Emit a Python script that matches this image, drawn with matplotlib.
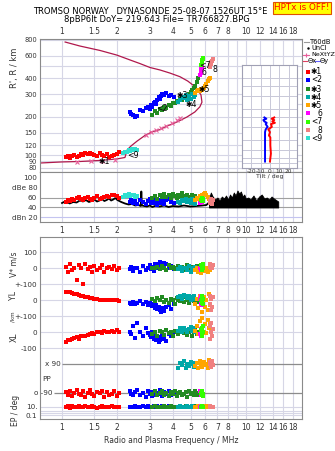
import numpy as np
import matplotlib
matplotlib.use("Agg")
from matplotlib import pyplot as plt
from matplotlib.ticker import NullLocator

plt.rcParams['font.family'] = ['DejaVu Sans']
plt.rcParams['font.size'] = 6

# ---- eixos de frequencia e altura ----
grade_f = [1, 1.5, 2, 3, 4, 5, 6, 7, 8, 9, 10, 12, 14, 16, 18]
rot_f_topo = ["1", "1.5", "2", "3", "4", "5", "6", "7", "8", "", "10", "12", "14", "16", "18"]
rot_f_meio = ["1", "1.5", "2", "3", "4", "5", "6", "7", "8", "9", "10", "12", "14", "16", "18"]
alt_ticks = [80, 90, 100, 120, 150, 200, 250, 300, 400, 500, 600, 800]
alt_rot = ["80", "90", "100", "120", "150", "200", "", "300", "400", "", "600", "800"]

# ---- perfil de densidade (freq MHz, altura km) ----
perfil_f = [0.76, 1.0, 1.25, 1.61, 1.99, 2.20, 2.26, 2.37, 2.56, 2.83, 3.08, 3.41, 3.72, 4.22, 4.78,
            5.28, 5.62, 5.77, 5.70, 5.48, 5.15, 4.83, 4.38, 3.86, 3.41, 3.01, 2.65, 2.34, 1.99, 1.61, 1.25, 1.04]
perfil_h = [87, 88.7, 89.4, 91.1, 93.6, 96.1, 110, 118, 129, 143, 152, 159, 169, 182, 199,
            218, 239, 260, 296, 323, 354, 380, 411, 439, 464, 485, 521, 556, 606, 659, 714, 767]
nx_f = [1.2, 1.44, 1.64, 1.94, 2.85, 3.05, 3.25, 3.45, 3.7, 3.95, 4.2, 4.4]
nx_h = [89, 90, 91, 92, 145, 152, 157, 162, 170, 178, 187, 194]

# ---- inclinacoes (tilt) ----
tx_h = [247, 240, 233, 226, 219, 213, 200, 189, 178, 165, 158, 132, 110, 92]
tx_deg = [4.6, 1.8, 4.6, 2.5, 5.3, 1.1, 2.0, -1.8, 0, -1.1, 0.4, 0.4, 1.0, 0]
ty_h = [247, 240, 233, 226, 219, 213, 200, 189, 178, 165, 132, 110, 92]
ty_deg = [-6, -3.9, -7.1, -6, -3.5, -4.6, -2.5, -4.6, -5.3, -5.3, -5.3, -5.3, -5.3]

# ---- ruido (dB) ----
ruido_f = [1.0, 1.05, 1.1, 1.15, 1.2, 1.25, 1.3, 1.35, 1.4, 1.45, 1.5, 1.55, 1.6, 1.65, 1.7, 1.75, 1.8,
           1.85, 1.9, 1.95, 2.0, 2.05, 2.1, 2.2, 2.3, 2.4, 2.5, 2.6, 2.68, 2.7, 2.72, 2.8, 2.9, 3.0,
           3.1, 3.2, 3.4, 3.6, 3.8, 4.0, 4.3, 4.6, 5.0, 5.4, 5.8, 6.1, 6.3]
ruido_db = [49, 53, 48, 51, 50, 54, 52, 55, 51, 53, 56, 52, 54, 57, 53, 55, 58, 54, 56, 59, 55, 53,
            51, 48, 46, 47, 44, 45, 43, 72, 44, 43, 42, 44, 41, 43, 42, 44, 41, 43, 42, 44, 42, 43,
            44, 45, 50]
ruido2_f = [6.3, 6.45, 6.6, 6.8, 7.0, 7.2, 7.4, 7.6, 7.8, 8.0, 8.2, 8.4, 8.6, 8.8, 9.0, 9.2, 9.4,
            9.6, 9.8, 10.0, 10.3, 10.6, 11.0, 11.4, 11.8, 12.2, 12.6, 13.0, 13.4, 13.8, 14.2, 14.6, 15.0]
ruido2_top = [58, 70, 62, 56, 60, 54, 62, 58, 64, 56, 66, 60, 70, 64, 74, 68, 72, 62, 66, 58, 60,
              56, 64, 54, 62, 66, 58, 60, 56, 62, 58, 55, 52]
ruido2_base = 40

# ---- ecos por trajeto ----
f1 = [1.05, 1.08, 1.1, 1.13, 1.16, 1.2, 1.23, 1.27, 1.3, 1.34, 1.38, 1.42, 1.46, 1.5, 1.55, 1.6,
      1.65, 1.7, 1.75, 1.8, 1.86, 1.92, 1.98, 2.05]
h1 = [97, 99, 96, 98, 100, 97, 99, 103, 101, 104, 102, 105, 103, 101, 99, 104, 100, 98, 102, 97, 99, 101, 103, 106]
db1 = [52, 55, 54, 58, 56, 60, 62, 57, 55, 59, 61, 58, 56, 60, 63, 57, 59, 61, 64, 62, 65, 66, 63, 60]
v1 = [10, -20, 30, -10, 5, -75, 20, 0, -100, 25, -5, 10, -25, 15, -10, 5, 20, -20, 0, 10, -5, 15, -10, 5]
yl1 = [55, 52, 50, 45, 42, 38, 35, 30, 25, 22, 18, 15, 12, 10, 8, 5, 5, 3, 5, 2, 0, 2, 0, -2]
xl1 = [-60, -50, -45, -40, -35, -30, -40, -25, -20, -25, -15, -10, -5, -10, 0, 5, -5, 10, 0, 5, 10, 0, 15, 5]
pp1 = [-85, -100, -75, -110, -90, -70, -95, -105, -80, -115, -88, -72, -98, -108, -82, -92, -76,
       -112, -86, -102, -94, -78, -106, -90]
ep1 = [8, 12, 6, 15, 10, 9, 13, 7, 11, 14, 9, 8, 12, 10, 6, 11, 13, 9, 7, 10, 12, 8, 11, 9]

f2 = [2.33, 2.38, 2.43, 2.48, 2.55, 2.65, 2.75, 2.85, 2.95, 3.0, 3.05, 3.1, 3.15, 3.2, 3.25, 3.3,
      3.35, 3.4, 3.45, 3.5, 3.6, 3.7, 3.8, 3.9, 4.05]
h2 = [216, 212, 206, 199, 203, 226, 222, 232, 238, 228, 246, 240, 256, 262, 250, 272, 284, 276, 292,
      300, 296, 306, 288, 298, 285]
db2 = [52, 55, 50, 54, 48, 56, 51, 47, 53, 57, 50, 55, 49, 58, 52, 46, 54, 56, 50, 53, 48, 55, 57, 51, 49]
v2 = [-5, 10, -15, 5, 0, -20, 15, -10, 5, 20, -5, 10, -15, 25, 0, 30, 15, 40, 20, 10, 35, 25, 5, 15, -5]
yl2 = [-15, -20, -10, -25, -15, -5, -20, -10, -30, -15, -25, -35, -20, -45, -30, -55, -40, -60, -70,
       -50, -65, -40, -30, -55, -20]
xl2 = [5, -10, 40, -35, 60, 0, -20, 25, -5, -15, -30, 5, -40, -25, -50, -35, -60, -45, -30, -20, -40,
       -55, -10, -25, 0]
pp2 = [-80, -95, -105, -85, -70, -100, -90, -115, -75, -95, -85, -110, -100, -80, -92, -105, -88,
       -72, -98, -110, -84, -95, -78, -102, -90]
ep2 = [9, 11, 8, 13, 10, 7, 12, 9, 14, 10, 8, 11, 13, 9, 10, 12, 7, 11, 9, 13, 10, 8, 12, 10, 9]

f3 = [3.1, 3.2, 3.3, 3.4, 3.5, 3.6, 3.7, 3.8, 3.9, 4.0, 4.1, 4.2, 4.3, 4.4, 4.5, 4.6, 4.7, 4.8, 4.9,
      5.0, 5.1, 5.2, 5.3, 5.4, 5.5]
h3 = [208, 220, 215, 230, 226, 240, 236, 248, 244, 258, 254, 266, 262, 276, 272, 286, 282, 296, 300,
      310, 322, 335, 350, 372, 400]
db3 = [60, 64, 58, 66, 62, 68, 61, 65, 59, 67, 63, 60, 66, 62, 69, 64, 60, 65, 58, 62, 66, 61, 63, 59, 57]
v3 = [5, 0, 10, -5, 15, 5, -10, 20, 0, 10, -5, 5, 15, 0, 10, -10, 5, 20, 0, -5, 10, 5, -10, 15, 0]
yl3 = [10, -5, 15, 0, 20, -10, 5, -15, 10, 0, -20, 15, 5, -5, 10, -10, 20, 0, -15, 5, 15, -5, 10, -10, 0]
xl3 = [-10, 5, -20, 10, 0, -15, 15, -5, 5, -25, 10, 0, -10, 20, 5, -5, 15, -15, 0, 10, -20, 5, 15, -10, 0]
pp3 = [-95, -80, -105, -88, -75, -100, -92, -110, -84, -98, -78, -106, -90, -82, -102, -94, -86,
       -112, -76, -96, -88, -104, -80, -92, -100]
ep3 = [10, 12, 8, 11, 9, 13, 10, 7, 12, 9, 11, 10, 8, 13, 10, 9, 12, 11, 8, 10, 9, 12, 10, 11, 9]

f4 = [4.3, 4.4, 4.5, 4.6, 4.7, 4.8, 4.9, 5.0, 5.1, 5.2, 5.3]
h4 = [262, 270, 285, 278, 296, 268, 290, 275, 300, 285, 295]
db4 = [52, 49, 56, 54, 58, 51, 55, 50, 57, 53, 48]
v4 = [-5, 10, -15, 0, 5, -10, 15, -20, 0, -5, 10]
yl4 = [20, 30, 10, 35, 25, 15, 30, 5, 20, 25, 10]
xl4 = [10, 25, 0, 30, 15, 5, 20, 35, 10, 25, 0]
pp4 = [70, 100, 85, 110, 65, 95, 80, 105, 90, 75, 100]
ep4 = [9, 12, 10, 8, 11, 13, 9, 10, 12, 8, 11]

f5 = [5.3, 5.4, 5.5, 5.6, 5.7, 5.8, 5.9, 6.0, 6.1, 6.2, 6.3, 6.4]
h5 = [305, 315, 322, 318, 330, 326, 338, 345, 362, 380, 392, 402]
db5 = [56, 60, 58, 64, 62, 66, 68, 70, 65, 61, 58, 55]
v5 = [-10, 5, -20, 0, -30, 10, -5, -15, 5, -25, 0, -10]
yl5 = [-20, 10, -50, 30, -10, -70, 20, -40, 0, -60, 40, -30]
xl5 = [10, 40, -10, 70, 20, 90, 0, 50, -5, 80, 30, 60]
pp5 = [80, 100, 65, 110, 90, 75, 105, 85, 95, 70, 115, 88]
ep5 = [10, 8, 12, 9, 11, 13, 10, 7, 12, 9, 11, 10]

f6 = [5.65, 5.68, 5.7, 5.72, 5.75, 5.78]
h6 = [425, 440, 455, 470, 485, 500]
db6 = [50, 53, 55, 52, 54, 51]
v6 = [5, -10, 15, 0, -5, 10]
yl6 = [10, -20, 25, -5, 15, -30]
xl6 = [-10, 20, 5, -25, 30, 0]
pp6 = [-80, -95, -105, -85, -100, -90]
ep6 = [10, 12, 9, 11, 8, 10]

f7 = [5.72, 5.75, 5.78, 5.8, 5.83, 5.86]
h7 = [510, 525, 540, 555, 565, 580]
db7 = [55, 58, 53, 60, 57, 54]
v7 = [20, 0, 10, -10, 25, 5]
yl7 = [0, 20, -15, 30, -25, 10]
xl7 = [15, -10, 30, -20, 5, 40]
pp7 = [-90, -75, -105, -85, -110, -95]
ep7 = [11, 9, 12, 10, 8, 10]

f8 = [6.35, 6.4, 6.45, 6.5, 6.55, 6.6]
h8 = [490, 505, 520, 535, 550, 565]
db8 = [50, 54, 57, 52, 48, 55]
v8 = [10, 25, 0, 15, 5, 20]
yl8 = [30, -20, 10, -60, -40, 20]
xl8 = [-40, 40, 0, 60, -20, 20]
pp8 = [90, 105, 75, 95, 110, 85]
ep8 = [10, 12, 9, 11, 8, 10]

f9 = [2.15, 2.2, 2.25, 2.3, 2.35, 2.4, 2.45, 2.5, 2.55]
h9 = [104, 107, 106, 109, 108, 111, 110, 112, 109]
db9 = [62, 65, 64, 67, 63, 66, 65, 62, 64]

cores = {1: "#ff0000", 2: "#0000ff", 3: "#228b22", 4: "#00a8a8", 5: "#ffa500",
         6: "#ff00ff", 7: "#33ff00", 8: "#f08080", 9: "#30e0d0"}
nomes = {1: "\u27311", 2: "<2", 3: "\u27313", 4: "\u27314", 5: "\u27315", 6: "6", 7: "<7", 8: "8", 9: "<9"}

W, H = 335, 451
grade = "#d6d6e6"
moldura = "#8a8a8a"
crimson = "#b0184c"
rosa = "#e8609c"
texto = "#333333"


def caixa(x0, y0, x1, y1):
    return [x0 / W, 1 - y1 / H, (x1 - x0) / W, (y1 - y0) / H]


# bandas do painel inferior
def pos_v(v): return np.asarray(v, float)
def pos_yl(v): return np.asarray(v, float) - 200
def pos_xl(v): return np.asarray(v, float) - 400
def pos_pp(v): return np.asarray(v, float) - 690
def pos_ep(v): return -917 + (np.log10(np.asarray(v, float)) + 1) * 26


def eixo_freq(ax):
    ax.set_xscale("log")
    ax.set_xlim(0.759, 20.2)
    ax.set_xticks(grade_f)
    ax.xaxis.set_minor_locator(NullLocator())
    ax.grid(True, axis="x", color=grade, lw=0.8)
    ax.tick_params(length=0, labelsize=5.5, colors=texto)
    for s in ax.spines.values():
        s.set_color(moldura)
        s.set_linewidth(0.8)


fig = plt.figure(figsize=(W / 100, H / 100), dpi=100)

# ---------------- painel superior: ionograma ----------------
ax1 = fig.add_axes(caixa(40, 39, 302, 172))
eixo_freq(ax1)
ax1.set_yscale("log")
ax1.set_ylim(74, 810)
ax1.set_yticks(alt_ticks)
ax1.set_yticklabels(alt_rot)
ax1.yaxis.set_minor_locator(NullLocator())
ax1.grid(True, axis="y", color=grade, lw=0.8)
ax1.set_xticklabels(rot_f_topo)
ax1.tick_params(axis="x", top=True, labeltop=True, bottom=False, labelbottom=False, pad=2)
ax1.tick_params(axis="y", pad=2, labelsize=4.8)

ax1.plot(perfil_f, perfil_h, color=crimson, lw=0.9, zorder=2)
ax1.plot(nx_f, nx_h, "x", color=rosa, ms=2.6, mew=0.8, zorder=3)

trajetos = [(1, f1, h1), (9, f9, h9), (2, f2, h2), (3, f3, h3), (4, f4, h4), (5, f5, h5),
            (6, f6, h6), (7, f7, h7), (8, f8, h8)]
for k, ff, hh in trajetos:
    ax1.plot(ff, hh, "s", color=cores[k], ms=2.5, mew=0, zorder=4)

rotulos = [(1, 1.69, 90), (9, 2.43, 100), (2, 3.5, 234), (3, 4.49, 292), (4, 5.04, 250),
           (5, 5.9, 324), (6, 5.9, 440), (7, 5.98, 507), (8, 6.79, 464)]
for k, fx, hy in rotulos:
    ax1.text(fx, hy, nomes[k], fontsize=5.6, ha="center", va="center", color="black", zorder=6)

# inset de inclinacao
ax4 = fig.add_axes(caixa(242, 65, 297, 168))
ax4.set_zorder(5)
ax4.set_yscale("log")
ax4.set_ylim(79.6, 507)
ax4.set_xlim(-30, 29)
ax4.set_yticks(alt_ticks)
ax4.set_yticklabels([])
ax4.yaxis.set_minor_locator(NullLocator())
ax4.set_xticks([-20, -10, 0, 10, 20])
ax4.set_xticklabels(["-20", "-10", "0", "10", "20"])
ax4.grid(True, color="#c8c8d8", lw=0.7)
ax4.tick_params(length=0, labelsize=4.2, pad=1, colors=texto)
ax4.set_xlabel("Tilt / deg", fontsize=4.4, labelpad=0, color=texto)
for s in ax4.spines.values():
    s.set_color("#a0a0b4")
ax4.plot(ty_deg, ty_h, color="#0000ff", lw=1.4)
ax4.plot(tx_deg, tx_h, color="#ff0000", lw=1.4)

# ---------------- painel de amplitude (dB) ----------------
ax2 = fig.add_axes(caixa(40, 172, 302, 222))
eixo_freq(ax2)
ax2.set_ylim(11, 111)
ax2.set_yticks([100, 80, 60, 40, 20])
ax2.set_yticklabels(["100", "dBe 80", "60", "40", "dBn 20"])
ax2.set_xticklabels(rot_f_meio)
ax2.tick_params(axis="x", pad=3)
ax2.tick_params(axis="y", pad=2, labelsize=5.2)
ax2.axhline(60, color="#a0a0a0", lw=0.8)
ax2.axhline(40, color="#a0a0a0", lw=0.8)
ax2.axhline(20, color="#c4c4f0", lw=0.8)
ax2.plot(ruido_f, ruido_db, color="black", lw=1.3, zorder=2)
ax2.fill_between(ruido2_f, ruido2_base, ruido2_top, color="black", lw=0.6, zorder=2)
dbs = [(1, f1, db1), (9, f9, db9), (2, f2, db2), (3, f3, db3), (4, f4, db4), (5, f5, db5),
       (8, f8, db8), (6, f6, db6), (7, f7, db7)]
for k, ff, dd in dbs:
    ax2.plot(ff, dd, "s", color=cores[k], ms=2.5, mew=0, zorder=3)

# ---------------- painel inferior: V*, YL, XL, PP, EP ----------------
ax3 = fig.add_axes(caixa(40, 237, 302, 419))
eixo_freq(ax3)
ax3.set_ylim(-942, 196)
yt = [100, 0, -100, -200, -300, -400, -500, float(pos_ep(10)), float(pos_ep(0.1))]
ax3.set_yticks(yt)
ax3.set_yticklabels(["100", "0", "+-100", "0", "+-100", "0", "-100", "10.", "0.1"])
ax3.set_xticklabels(rot_f_topo)
ax3.tick_params(axis="x", pad=3)
ax3.tick_params(axis="y", pad=2, labelsize=5.2)
ax3.grid(True, axis="y", color=grade, lw=0.8)
for e in [1, 0.3]:
    ax3.axhline(float(pos_ep(e)), color=grade, lw=0.8)
ax3.hlines(float(pos_pp(90)), 1.0, 20.2, color="#8c8c8c", lw=0.9)
ax3.hlines(float(pos_pp(-90)), 0.9, 20.2, color="#8c8c8c", lw=0.9)
ax3.text(0.99, float(pos_pp(90)), "x 90", ha="right", va="center", fontsize=5.2, color=texto)
ax3.text(0.89, float(pos_pp(-90)), "o -90", ha="right", va="center", fontsize=5.2, color=texto)
ax3.text(0.785, float(pos_pp(0)), "PP", ha="left", va="center", fontsize=5.2, color=texto)
ax3.set_xlabel("Radio and Plasma Frequency / MHz", fontsize=5.5, labelpad=3, color=texto)

ecos = [(1, f1, v1, yl1, xl1, pp1, ep1), (2, f2, v2, yl2, xl2, pp2, ep2),
        (3, f3, v3, yl3, xl3, pp3, ep3), (4, f4, v4, yl4, xl4, pp4, ep4),
        (5, f5, v5, yl5, xl5, pp5, ep5), (8, f8, v8, yl8, xl8, pp8, ep8),
        (6, f6, v6, yl6, xl6, pp6, ep6), (7, f7, v7, yl7, xl7, pp7, ep7)]
for k, ff, vv, yy, xx, pp, ee in ecos:
    for vals in [pos_v(vv), pos_yl(yy), pos_xl(xx), pos_pp(pp), pos_ep(ee)]:
        ax3.plot(ff, vals, "s", color=cores[k], ms=2.5, mew=0, zorder=3)

# ---------------- textos laterais ----------------
fig.text(14 / W, 1 - 68 / H, "R', R / km", rotation=90, ha="center", va="center", fontsize=6, color=texto)
fig.text(14 / W, 1 - 264 / H, "V* m/s", rotation=90, ha="center", va="center", fontsize=5.5, color=texto)
fig.text(14 / W, 1 - 296 / H, "YL", rotation=90, ha="center", va="center", fontsize=5.6, color=texto)
fig.text(13 / W, 1 - 316.5 / H, "/km", rotation=90, ha="center", va="center", fontsize=4.1, color=texto)
fig.text(14 / W, 1 - 337 / H, "XL", rotation=90, ha="center", va="center", fontsize=5.6, color=texto)
fig.text(15 / W, 1 - 410 / H, "EP / deg", rotation=90, ha="center", va="center", fontsize=5.5, color=texto)

# ---------------- titulo ----------------
fig.text(150 / W, 1 - 12 / H, "TROMSO NORWAY   DYNASONDE 25-08-07 1526UT 15\u00b0E",
         ha="center", va="center", fontsize=6, color="black")
fig.text(157 / W, 1 - 20 / H, "8pBP6It DoY= 219.643 File= TR766827.BPG",
         ha="center", va="center", fontsize=6, color="black")
fig.text(302 / W, 1 - 8 / H, "HPTx is OFF!", ha="center", va="center", fontsize=6.3, color="#ff0000",
         bbox=dict(boxstyle="square,pad=0.15", facecolor="#ffff00", edgecolor="#e05000", lw=0.8))

# ---------------- legenda ----------------
leg = fig.add_axes(caixa(302, 36, 335, 142))
leg.set_xlim(302, 335)
leg.set_ylim(142, 36)
leg.axis("off")
leg.plot([303.5, 308.5], [42, 42], color="#999999", lw=0.8)
leg.text(310, 42, "T60dB", fontsize=4.8, va="center")
leg.plot([307.5], [48], ".", color="black", ms=1.5)
leg.text(311, 48, "UnCl", fontsize=4.8, va="center")
leg.plot([303, 309], [54.5, 54.5], color=rosa, lw=0.8)
leg.plot([306], [54.5], "+", color=rosa, ms=3, mew=0.8)
leg.text(311, 54.5, "NeXtYZ", fontsize=4.6, va="center")
leg.plot([302.5, 307], [61, 61], color="#e04060", lw=0.8)
leg.text(307.5, 61, "\u0398x", fontsize=4.8, va="center")
leg.plot([314.5, 319.5], [61, 61], color="#6060ff", lw=0.8)
leg.text(320, 61, "\u0398y", fontsize=4.8, va="center")
ys_leg = [72, 80, 89, 97, 105, 113, 121.5, 130, 138]
for k, yy in zip(range(1, 10), ys_leg):
    leg.plot([308], [yy], "s", color=cores[k], ms=2.6, mew=0)
    leg.text(322, yy, nomes[k], fontsize=5.5, va="center", ha="right")

fig.savefig("out.png", dpi=100)
